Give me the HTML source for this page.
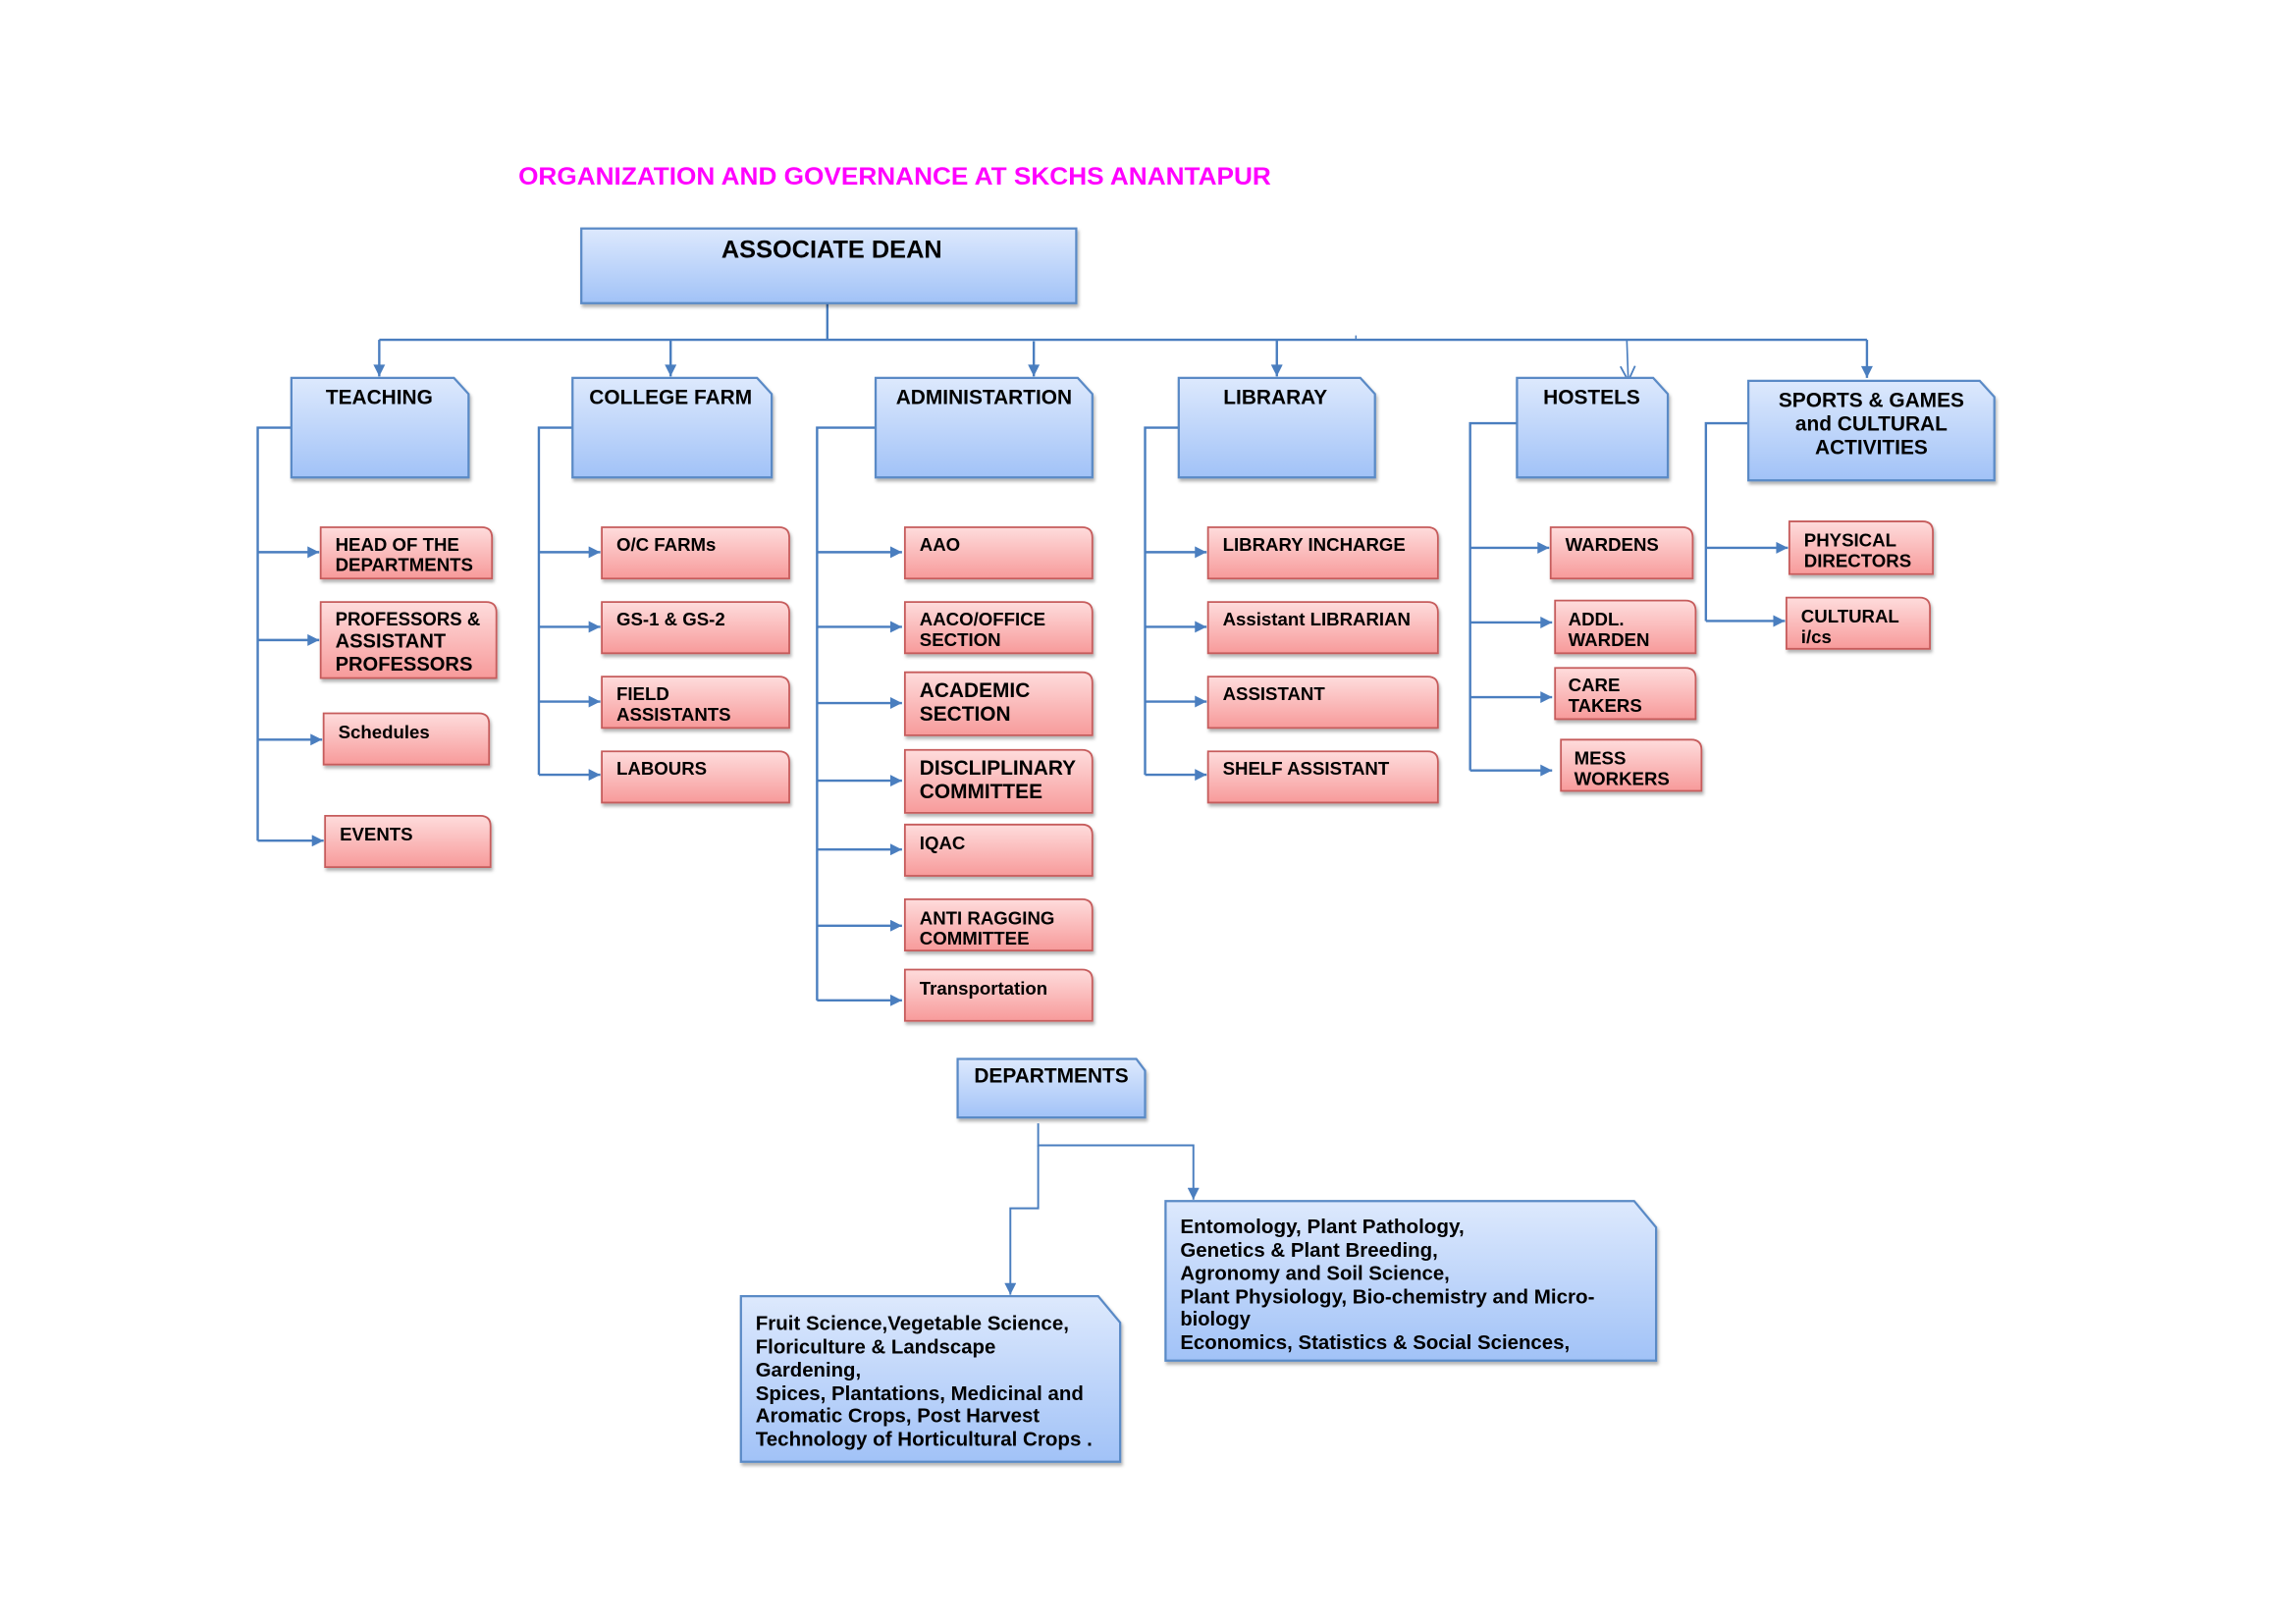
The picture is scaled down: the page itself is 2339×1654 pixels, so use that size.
<!DOCTYPE html>
<html><head><meta charset="utf-8"><style>
html,body{margin:0;padding:0;background:#fff;}
svg{display:block;}
text{font-family:"Liberation Sans",Arial,sans-serif;font-weight:bold;fill:#000;}
</style></head><body>
<svg width="2339" height="1654" viewBox="0 0 1568 1108.8" preserveAspectRatio="none" xmlns="http://www.w3.org/2000/svg">
<defs>
<linearGradient id="gb" x1="0" y1="0" x2="0" y2="1"><stop offset="0" stop-color="#dde9fd"/><stop offset="1" stop-color="#a1c2f7"/></linearGradient>
<linearGradient id="gr" x1="0" y1="0" x2="0" y2="1"><stop offset="0" stop-color="#fedcdc"/><stop offset="1" stop-color="#f79a9a"/></linearGradient>
<marker id="ar" viewBox="0 0 10 10" refX="10" refY="5" markerWidth="12" markerHeight="8" orient="auto" markerUnits="userSpaceOnUse"><path d="M0,0 L10,5 L0,10 z" fill="#4a7ebf"/></marker>
<marker id="ao" viewBox="0 0 10 10" refX="10" refY="5" markerWidth="10" markerHeight="11" orient="auto" markerUnits="userSpaceOnUse"><path d="M0,0 L10,5 L0,10" fill="none" stroke="#4a7ebf" stroke-width="1.2"/></marker>
<filter id="sh" x="-5%" y="-5%" width="115%" height="125%"><feDropShadow dx="1" dy="2" stdDeviation="1" flood-color="#000" flood-opacity="0.3"/></filter>
</defs>

<text x="354" y="126" font-size="17" style="fill:#ff00ff" textLength="514" lengthAdjust="spacingAndGlyphs">ORGANIZATION AND GOVERNANCE AT SKCHS  ANANTAPUR</text>

<g fill="none" stroke="#4a7ebf" stroke-width="1.6">
<path d="M565,207 V232"/>
<path d="M259,232 H1275"/>
<path d="M259,232 V257" marker-end="url(#ar)"/>
<path d="M458,232 V257" marker-end="url(#ar)"/>
<path d="M706,233 V257" marker-end="url(#ar)"/>
<path d="M872,232 V257" marker-end="url(#ar)"/>
<path d="M1111,232 L1112,260" marker-end="url(#ao)" stroke-width="1.1"/>
<path d="M1275,232 V258" marker-end="url(#ar)"/>
<path d="M926,229 V232" stroke-width="1"/>

<path d="M199,292 H176 V574"/>
<path d="M176,377 H218" marker-end="url(#ar)"/>
<path d="M176,437 H218" marker-end="url(#ar)"/>
<path d="M176,505 H220" marker-end="url(#ar)"/>
<path d="M176,574 H221" marker-end="url(#ar)"/>

<path d="M391,292 H368 V529"/>
<path d="M368,377 H410" marker-end="url(#ar)"/>
<path d="M368,428 H410" marker-end="url(#ar)"/>
<path d="M368,479 H410" marker-end="url(#ar)"/>
<path d="M368,529 H410" marker-end="url(#ar)"/>

<path d="M598,292 H558 V683"/>
<path d="M558,377 H616" marker-end="url(#ar)"/>
<path d="M558,428 H616" marker-end="url(#ar)"/>
<path d="M558,480 H616" marker-end="url(#ar)"/>
<path d="M558,533 H616" marker-end="url(#ar)"/>
<path d="M558,580 H616" marker-end="url(#ar)"/>
<path d="M558,632 H616" marker-end="url(#ar)"/>
<path d="M558,683 H616" marker-end="url(#ar)"/>

<path d="M805,292 H782 V529"/>
<path d="M782,377 H824" marker-end="url(#ar)"/>
<path d="M782,428 H824" marker-end="url(#ar)"/>
<path d="M782,479 H824" marker-end="url(#ar)"/>
<path d="M782,529 H824" marker-end="url(#ar)"/>

<path d="M1036,289 H1004 V526"/>
<path d="M1004,374 H1058" marker-end="url(#ar)"/>
<path d="M1004,425 H1060" marker-end="url(#ar)"/>
<path d="M1004,476 H1060" marker-end="url(#ar)"/>
<path d="M1004,526 H1060" marker-end="url(#ar)"/>

<path d="M1194,289 H1165 V424"/>
<path d="M1165,374 H1221" marker-end="url(#ar)"/>
<path d="M1165,424 H1219" marker-end="url(#ar)"/>

<path d="M709,767 V782 H815 V819" marker-end="url(#ar)" stroke-width="1.3"/>
<path d="M709,782 V825 H690 V884" marker-end="url(#ar)" stroke-width="1.3"/>
</g>

<g fill="url(#gb)" stroke="#5a8ac6" stroke-width="1.5" filter="url(#sh)">
<rect x="397" y="156" width="338" height="51"/>
<path d="M199,258 H310 L320,269 V326 H199 Z"/>
<path d="M391,258 H517 L527,269 V326 H391 Z"/>
<path d="M598,258 H736 L746,269 V326 H598 Z"/>
<path d="M805,258 H929 L939,269 V326 H805 Z"/>
<path d="M1036,258 H1129 L1139,269 V326 H1036 Z"/>
<path d="M1194,260 H1352 L1362,271 V328 H1194 Z"/>
<path d="M654,723 H776 L782,731 V763 H654 Z"/>
<path d="M796,820 H1116 L1131,838 V929 H796 Z"/>
<path d="M506,885 H750 L765,903 V998 H506 Z"/>
</g>

<g fill="url(#gr)" stroke="#c65b5b" stroke-width="1.2" filter="url(#sh)">
<path d="M219,360 H329 Q336,360 336,367 V395 H219 Z"/>
<path d="M219,411 H332 Q339,411 339,418 V463 H219 Z"/>
<path d="M221,487 H327 Q334,487 334,494 V522 H221 Z"/>
<path d="M222,557 H328 Q335,557 335,564 V592 H222 Z"/>

<path d="M411,360 H532 Q539,360 539,367 V395 H411 Z"/>
<path d="M411,411 H532 Q539,411 539,418 V446 H411 Z"/>
<path d="M411,462 H532 Q539,462 539,469 V497 H411 Z"/>
<path d="M411,513 H532 Q539,513 539,520 V548 H411 Z"/>

<path d="M618,360 H739 Q746,360 746,367 V395 H618 Z"/>
<path d="M618,411 H739 Q746,411 746,418 V446 H618 Z"/>
<path d="M618,459 H739 Q746,459 746,466 V502 H618 Z"/>
<path d="M618,512 H739 Q746,512 746,519 V555 H618 Z"/>
<path d="M618,563 H739 Q746,563 746,570 V598 H618 Z"/>
<path d="M618,614 H739 Q746,614 746,621 V649 H618 Z"/>
<path d="M618,662 H739 Q746,662 746,669 V697 H618 Z"/>

<path d="M825,360 H975 Q982,360 982,367 V395 H825 Z"/>
<path d="M825,411 H975 Q982,411 982,418 V446 H825 Z"/>
<path d="M825,462 H975 Q982,462 982,469 V497 H825 Z"/>
<path d="M825,513 H975 Q982,513 982,520 V548 H825 Z"/>

<path d="M1059,360 H1149 Q1156,360 1156,367 V395 H1059 Z"/>
<path d="M1062,410 H1151 Q1158,410 1158,417 V446 H1062 Z"/>
<path d="M1062,456 H1151 Q1158,456 1158,463 V491 H1062 Z"/>
<path d="M1066,505 H1155 Q1162,505 1162,512 V540 H1066 Z"/>

<path d="M1222,356 H1313 Q1320,356 1320,363 V392 H1222 Z"/>
<path d="M1220,408 H1311 Q1318,408 1318,415 V443 H1220 Z"/>
</g>

<g font-size="14" text-anchor="middle">
<text x="568" y="176" font-size="17">ASSOCIATE DEAN</text>
<text x="259" y="276">TEACHING</text>
<text x="458" y="276">COLLEGE FARM</text>
<text x="672" y="276">ADMINISTARTION</text>
<text x="871" y="276">LIBRARAY</text>
<text x="1087" y="276">HOSTELS</text>
<text x="1278" y="278">SPORTS &amp; GAMES</text>
<text x="1278" y="294">and CULTURAL</text>
<text x="1278" y="310">ACTIVITIES</text>
<text x="718" y="739">DEPARTMENTS</text>
</g>

<g font-size="12.5">
<text x="229" y="376">HEAD OF THE</text><text x="229" y="390">DEPARTMENTS</text>
<text x="229" y="427" font-size="13.2" textLength="99" lengthAdjust="spacingAndGlyphs">PROFESSORS &amp;</text><text x="229" y="442" font-size="13.5">ASSISTANT</text><text x="229" y="458" font-size="13.5">PROFESSORS</text>
<text x="231" y="504">Schedules</text>
<text x="232" y="574">EVENTS</text>

<text x="421" y="376">O/C FARMs</text>
<text x="421" y="427">GS-1 &amp; GS-2</text>
<text x="421" y="478">FIELD</text><text x="421" y="492">ASSISTANTS</text>
<text x="421" y="529">LABOURS</text>

<text x="628" y="376">AAO</text>
<text x="628" y="427">AACO/OFFICE</text><text x="628" y="441">SECTION</text>
<text x="628" y="476" font-size="14">ACADEMIC</text><text x="628" y="492" font-size="14">SECTION</text>
<text x="628" y="529" font-size="14">DISCLIPLINARY</text><text x="628" y="545" font-size="14">COMMITTEE</text>
<text x="628" y="580">IQAC</text>
<text x="628" y="631">ANTI RAGGING</text><text x="628" y="645">COMMITTEE</text>
<text x="628" y="679">Transportation</text>

<text x="835" y="376">LIBRARY INCHARGE</text>
<text x="835" y="427">Assistant LIBRARIAN</text>
<text x="835" y="478">ASSISTANT</text>
<text x="835" y="529">SHELF ASSISTANT</text>

<text x="1069" y="376">WARDENS</text>
<text x="1071" y="427">ADDL.</text><text x="1071" y="441">WARDEN</text>
<text x="1071" y="472">CARE</text><text x="1071" y="486">TAKERS</text>
<text x="1075" y="522">MESS</text><text x="1075" y="536">WORKERS</text>

<text x="1232" y="373">PHYSICAL</text><text x="1232" y="387">DIRECTORS</text>
<text x="1230" y="425">CULTURAL</text><text x="1230" y="439">i/cs</text>
</g>

<g font-size="13.5">
<text x="806" y="842" textLength="194" lengthAdjust="spacingAndGlyphs">Entomology, Plant Pathology,</text>
<text x="806" y="858" textLength="176" lengthAdjust="spacingAndGlyphs">Genetics &amp; Plant Breeding,</text>
<text x="806" y="874" textLength="184" lengthAdjust="spacingAndGlyphs">Agronomy and Soil Science,</text>
<text x="806" y="890" textLength="283" lengthAdjust="spacingAndGlyphs">Plant Physiology, Bio-chemistry and Micro-</text>
<text x="806" y="905" textLength="48" lengthAdjust="spacingAndGlyphs">biology</text>
<text x="806" y="921" textLength="266" lengthAdjust="spacingAndGlyphs">Economics, Statistics &amp; Social Sciences,</text>

<text x="516" y="908" textLength="214" lengthAdjust="spacingAndGlyphs">Fruit Science,Vegetable Science,</text>
<text x="516" y="924" textLength="164" lengthAdjust="spacingAndGlyphs">Floriculture &amp; Landscape</text>
<text x="516" y="940" textLength="72" lengthAdjust="spacingAndGlyphs">Gardening,</text>
<text x="516" y="956" textLength="224" lengthAdjust="spacingAndGlyphs">Spices, Plantations, Medicinal and</text>
<text x="516" y="971" textLength="194" lengthAdjust="spacingAndGlyphs">Aromatic Crops, Post Harvest</text>
<text x="516" y="987" textLength="230" lengthAdjust="spacingAndGlyphs">Technology of Horticultural Crops .</text>
</g>
</svg>
</body></html>
